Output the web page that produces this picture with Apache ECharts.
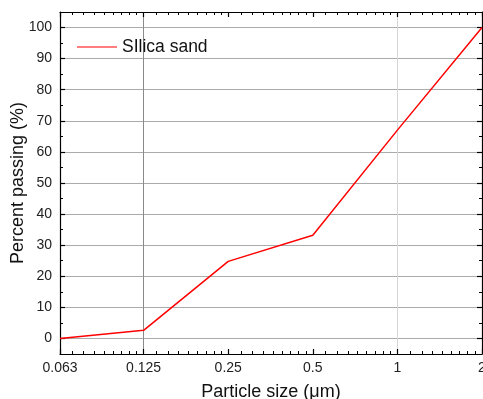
<!DOCTYPE html>
<html>
<head>
<meta charset="utf-8">
<script src="https://cdn.jsdelivr.net/npm/echarts@6/dist/echarts.min.js"></script>
<style>
html,body{margin:0;padding:0;background:#fff;}
#chart{width:483px;height:399px;}
</style>
</head>
<body>
<div id="chart"></div>
<script>
// Data
var particleSize = [0.063, 0.125, 0.25, 0.5, 1, 2];
var percentPassing = [0, 2.6, 24.8, 33.2, 67, 100];
var seriesName = 'SIlica sand';
// Tick labels
var xTickValues = [0.063, 0.125, 0.25, 0.5, 1, 2];
var xTickLabels = ['0.063', '0.125', '0.25', '0.5', '1', '2'];
var yTickValues = [0, 10, 20, 30, 40, 50, 60, 70, 80, 90, 100];
var yMinorValues = [5, 15, 25, 35, 45, 55, 65, 75, 85, 95];
var xOctaveStarts = [0.0625, 0.125, 0.25, 0.5, 1];

// minor ticks on log2 axis: 8 linear subdivisions within each octave
var xMinorValues = [];
xOctaveStarts.forEach(function (s) {
  for (var k = 1; k <= 8; k++) xMinorValues.push(s * (1 + k / 9));
});

var FONT = 'Liberation Sans, Arial, sans-serif';
var X_MIN = 0.063, X_MAX = 2, Y_MIN = -5, Y_MAX = 105;

function xAx(o) {
  var base = {
    type: 'log', logBase: 2, min: X_MIN, max: X_MAX, gridIndex: 0,
    axisLine: {show: false, onZero: false, lineStyle: {color: '#000', width: 1.2}},
    axisTick: {show: false},
    axisLabel: {show: false},
    splitLine: {show: false},
    minorTick: {show: false}, minorSplitLine: {show: false}
  };
  return Object.assign(base, o);
}
function yAx(o) {
  var base = {
    type: 'value', min: Y_MIN, max: Y_MAX, gridIndex: 0,
    axisLine: {show: false, onZero: false, lineStyle: {color: '#000', width: 1.2}},
    axisTick: {show: false},
    axisLabel: {show: false},
    splitLine: {show: false},
    minorTick: {show: false}, minorSplitLine: {show: false}
  };
  return Object.assign(base, o);
}

var option = {
  animation: false,
  backgroundColor: '#fff',
  grid: {left: 60, right: 1, top: 12, bottom: 45, containLabel: false, outerBoundsMode: 'none'},
  legend: {
    show: true, left: 72, top: 33, itemWidth: 40, itemHeight: 10, itemGap: 6,
    icon: 'path://M0,4.4 L40,4.4 L40,5.6 L0,5.6 Z',
    textStyle: {fontFamily: FONT, fontSize: 17.5, color: '#111'},
    data: [seriesName]
  },
  xAxis: [
    xAx({
      position: 'bottom',
      name: 'Particle size (\u03bcm)', nameLocation: 'middle', nameGap: 29, nameMoveOverlap: false,
      nameTextStyle: {fontFamily: FONT, fontSize: 18, color: '#111'},
      axisLine: {show: true, onZero: false, lineStyle: {color: '#000', width: 1.2}},
      axisTick: {show: true, inside: true, length: 5, customValues: xTickValues, lineStyle: {color: '#000', width: 1.2}},
      axisLabel: {show: true, customValues: xTickValues, margin: 7, fontFamily: FONT, fontSize: 14, color: '#222',
        formatter: function (v) {
          for (var i = 0; i < xTickValues.length; i++) if (Math.abs(v - xTickValues[i]) < 1e-6) return xTickLabels[i];
          return '';
        }}
    }),
    xAx({
      position: 'bottom',
      axisTick: {show: true, inside: true, length: 3, customValues: xMinorValues, lineStyle: {color: '#000', width: 1}}
    }),
    xAx({
      position: 'top',
      axisLine: {show: true, onZero: false, lineStyle: {color: '#000', width: 1.2}},
      axisTick: {show: true, inside: true, length: 5, customValues: xTickValues, lineStyle: {color: '#000', width: 1.2}}
    }),
    xAx({
      position: 'top',
      axisTick: {show: true, inside: true, length: 3, customValues: xMinorValues, lineStyle: {color: '#000', width: 1}}
    }),
    xAx({
      position: 'bottom',
      axisTick: {show: false, customValues: [0.125]},
      splitLine: {show: true, lineStyle: {color: '#8a8a8a', width: 1}}
    }),
    xAx({
      position: 'bottom',
      axisTick: {show: false, customValues: [1]},
      splitLine: {show: true, lineStyle: {color: '#d6d6d6', width: 1}}
    })
  ],
  yAxis: [
    yAx({
      position: 'left',
      name: 'Percent passing (%)', nameLocation: 'middle', nameGap: 33, nameMoveOverlap: false,
      nameTextStyle: {fontFamily: FONT, fontSize: 18, color: '#111'},
      axisLine: {show: true, onZero: false, lineStyle: {color: '#000', width: 1.2}},
      axisTick: {show: true, inside: true, length: 5, customValues: yTickValues, lineStyle: {color: '#000', width: 1.2}},
      axisLabel: {show: true, customValues: yTickValues, margin: 8, fontFamily: FONT, fontSize: 14, color: '#222'},
      splitLine: {show: true, lineStyle: {color: '#ababab', width: 1}}
    }),
    yAx({
      position: 'left',
      axisTick: {show: true, inside: true, length: 3, customValues: yMinorValues, lineStyle: {color: '#000', width: 1}}
    }),
    yAx({
      position: 'right',
      axisLine: {show: true, onZero: false, lineStyle: {color: '#000', width: 1.2}},
      axisTick: {show: true, inside: true, length: 5, customValues: yTickValues, lineStyle: {color: '#000', width: 1.2}}
    }),
    yAx({
      position: 'right',
      axisTick: {show: true, inside: true, length: 3, customValues: yMinorValues, lineStyle: {color: '#000', width: 1}}
    })
  ],
  series: [{
    name: seriesName,
    type: 'line',
    xAxisIndex: 0, yAxisIndex: 0,
    data: particleSize.map(function (x, i) { return [x, percentPassing[i]]; }),
    showSymbol: false, symbol: 'none',
    color: '#ff0000',
    lineStyle: {color: '#ff0000', width: 1.5},
    z: 5
  }]
};

var chart = echarts.init(document.getElementById('chart'), null, {renderer: 'canvas'});
chart.setOption(option);
</script>
</body>
</html>
